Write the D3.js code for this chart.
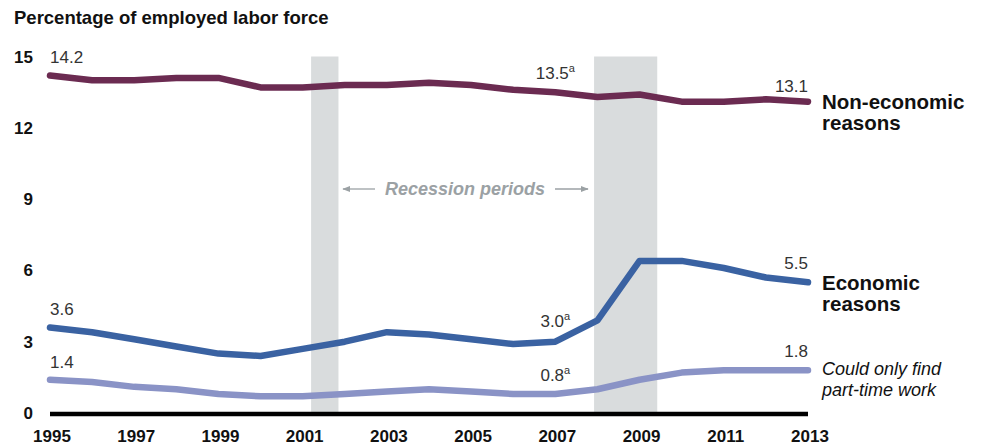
<!DOCTYPE html>
<html><head><meta charset="utf-8">
<script src="https://cdn.jsdelivr.net/npm/d3@7"></script>
<style>body{margin:0;background:#fff;font-family:"Liberation Sans",Arial,sans-serif}</style>
</head><body><svg id="c" width="985" height="448"></svg>
<script>
const years = d3.range(1995, 2014);
const nonEconomic = [14.2,14.0,14.0,14.1,14.1,13.7,13.7,13.8,13.8,13.9,13.8,13.6,13.5,13.3,13.4,13.1,13.1,13.2,13.1];
const economic = [3.6,3.4,3.1,2.8,2.5,2.4,2.7,3.0,3.4,3.3,3.1,2.9,3.0,3.9,6.4,6.4,6.1,5.7,5.5];
const partTime = [1.4,1.3,1.1,1.0,0.8,0.7,0.7,0.8,0.9,1.0,0.9,0.8,0.8,1.0,1.4,1.7,1.8,1.8,1.8];
const yTicks = [0,3,6,9,12,15];
const xTicks = [1995,1997,1999,2001,2003,2005,2007,2009,2011,2013];
const recessions = [[2001.2,2001.85],[2007.92,2009.42]];

const svg = d3.select("#c");
const x = d3.scaleLinear().domain([1995,2013]).range([50,808]);
const y = d3.scaleLinear().domain([0,15]).range([413,56.5]);

// recession bands
svg.selectAll("rect.rec").data(recessions).enter().append("rect")
  .attr("x", d=>x(d[0])).attr("width", d=>x(d[1])-x(d[0]))
  .attr("y", y(15)).attr("height", y(0)-y(15)).attr("fill","#d9dcdd");

// title
svg.append("text").attr("x",14).attr("y",24).attr("font-size",18.5).attr("font-weight","bold").attr("fill","#111")
  .text("Percentage of employed labor force");

// y ticks
svg.selectAll("text.yt").data(yTicks).enter().append("text")
  .attr("x",33).attr("y",d=>y(d)+6).attr("text-anchor","end").attr("font-size",17).attr("font-weight","bold").attr("fill","#111")
  .text(d=>d);

// x ticks
svg.selectAll("text.xt").data(xTicks).enter().append("text")
  .attr("x",d=>x(d)+2).attr("y",442).attr("text-anchor","middle").attr("font-size",17).attr("font-weight","bold").attr("fill","#111")
  .text(d=>d);

// axis baseline
svg.append("line").attr("x1",x(1995)).attr("x2",x(2013)).attr("y1",y(0)+1).attr("y2",y(0)+1)
  .attr("stroke","#000").attr("stroke-width",4.5);

const line = d3.line().x((d,i)=>x(years[i])).y(d=>y(d));
const series = [
  {v:nonEconomic, c:"#6b2b51"},
  {v:economic, c:"#3a62a2"},
  {v:partTime, c:"#8a93c6"}
];
svg.selectAll("path.s").data(series).enter().append("path")
  .attr("d", d=>line(d.v)).attr("fill","none").attr("stroke",d=>d.c)
  .attr("stroke-width",6.5).attr("stroke-linecap","round").attr("stroke-linejoin","round");

// value labels
function lab(xv, yv, txt, anchor, dy, sup){
  const t = svg.append("text").attr("x",x(xv)).attr("y",y(yv)+dy).attr("text-anchor",anchor)
    .attr("font-size",17).attr("fill","#333").text(txt);
  if(sup) t.append("tspan").attr("font-size",11).attr("dy",-7).text(sup);
}
lab(1995, nonEconomic[0], "14.2", "start", -13);
lab(1995, economic[0], "3.6", "start", -12);
lab(1995, partTime[0], "1.4", "start", -12);
lab(2007, nonEconomic[12], "13.5", "middle", -13, "a");
lab(2007, economic[12], "3.0", "middle", -15, "a");
lab(2007, partTime[12], "0.8", "middle", -13, "a");
lab(2013, nonEconomic[18], "13.1", "end", -10);
lab(2013, economic[18], "5.5", "end", -13);
lab(2013, partTime[18], "1.8", "end", -13);

// series labels
function slab(yv, lines, opts){
  const t = svg.append("text").attr("x",822).attr("font-size",opts.size).attr("fill","#111")
    .attr("font-weight",opts.bold?"bold":"normal").attr("font-style",opts.italic?"italic":"normal");
  lines.forEach((l,i)=>t.append("tspan").attr("x",822).attr("y",y(yv)+opts.dy+i*opts.lh).text(l));
}
slab(nonEconomic[18], ["Non-economic","reasons"], {size:20.5,bold:true,dy:7,lh:21});
slab(economic[18], ["Economic","reasons"], {size:20.5,bold:true,dy:8,lh:21});
slab(partTime[18], ["Could only find","part-time work"], {size:18,italic:true,dy:5,lh:21});

// recession label
const ry = 189;
svg.append("text").attr("x",465).attr("y",ry+6).attr("text-anchor","middle").attr("font-size",18)
  .attr("font-weight","bold").attr("font-style","italic").attr("fill","#9ba1a4").text("Recession periods");
svg.append("defs").append("marker").attr("id","ar").attr("viewBox","0 0 10 10").attr("refX",9).attr("refY",5)
  .attr("markerWidth",6).attr("markerHeight",6).attr("orient","auto-start-reverse")
  .append("path").attr("d","M0,1L10,5L0,9Z").attr("fill","#9ba1a4");
svg.append("line").attr("x1",375).attr("x2",343).attr("y1",ry).attr("y2",ry).attr("stroke","#9ba1a4").attr("stroke-width",1.3).attr("marker-end","url(#ar)");
svg.append("line").attr("x1",555).attr("x2",588).attr("y1",ry).attr("y2",ry).attr("stroke","#9ba1a4").attr("stroke-width",1.3).attr("marker-end","url(#ar)");
</script></body></html>
